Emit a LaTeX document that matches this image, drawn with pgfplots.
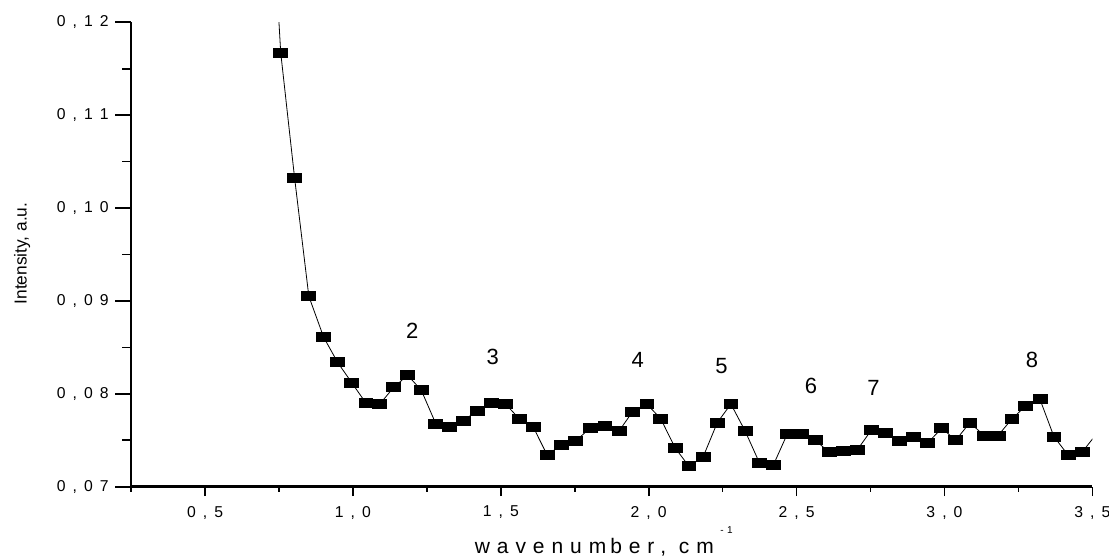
\documentclass[border=0pt]{standalone}
\usepackage{pgfplots}
\pgfplotsset{compat=1.18}
\usepackage{fontspec}
\setmainfont{Liberation Sans}
\newfontfamily\xlabfont[LetterSpace=33]{Liberation Sans}
\newcommand{\tg}{\hspace{5.3pt}}
\newcommand{\ty}[3]{\fontsize{11.8}{14}\selectfont #1\tg,\tg#2\tg#3}
\newcommand{\tx}[2]{\fontsize{11.8}{14}\selectfont #1\tg,\tg#2}
\begin{document}
\begin{tikzpicture}
\pgfplotsset{
  base/.style={
    scale only axis, width=720.9pt, height=348.3pt,
    xmin=0.25, xmax=3.5, ymin=0.07, ymax=0.12,
    axis lines*=left, axis line style={line width=2pt,-},
    tick align=outside,
    tick style={line width=1.25pt,black},
  }
}
\begin{axis}[base, hide y axis,
  xtick={0.5,1,1.5,2,2.5,3,3.5},
  xticklabels={{\tx{0}{5}},{\tx{1}{0}},{\tx{1}{5}},{\tx{2}{0}},{\tx{2}{5}},{\tx{3}{0}},{\tx{3}{5}}},
  minor xtick={0.25,0.75,1.25,1.75,2.25,2.75,3.25},
  major tick length=7pt, minor tick length=3.75pt,
  xticklabel style={anchor=north, yshift=-4pt},
  xlabel={{\xlabfont\fontsize{15.75}{18}\selectfont wavenum\hspace{3pt}ber, cm\hspace{5pt}\raisebox{15pt}{\fontsize{7.5}{9}\selectfont -1}}},
  every axis x label/.style={at={(axis description cs:0.3527,-0.1428)},anchor=base west},
]
\addplot[black, line width=0.6pt, mark=square*, mark size=3.375pt, mark options={xscale=1.55}] coordinates {
(0.709,0.1425) (0.756,0.1167) (0.803,0.1032) (0.851,0.0905) (0.901,0.0861)
(0.948,0.0834) (0.996,0.0812) (1.044,0.0790) (1.091,0.0789) (1.138,0.0807)
(1.185,0.0820) (1.231,0.0804) (1.280,0.0768) (1.325,0.0764) (1.374,0.0771)
(1.420,0.0782) (1.467,0.0790) (1.516,0.0789) (1.563,0.0773) (1.610,0.0764)
(1.657,0.0734) (1.704,0.0745) (1.752,0.0749) (1.802,0.0763) (1.852,0.0765)
(1.900,0.0760) (1.946,0.0781) (1.994,0.0789) (2.041,0.0773) (2.089,0.0742)
(2.136,0.0722) (2.184,0.0732) (2.232,0.0769) (2.278,0.0789) (2.326,0.0760)
(2.374,0.0726) (2.421,0.0723) (2.469,0.0757) (2.516,0.0757) (2.563,0.0750)
(2.611,0.0737) (2.658,0.0738) (2.706,0.0740) (2.753,0.0761) (2.801,0.0758)
(2.849,0.0749) (2.895,0.0754) (2.943,0.0747) (2.991,0.0763) (3.038,0.0750)
(3.086,0.0769) (3.134,0.0755) (3.181,0.0755) (3.228,0.0773) (3.275,0.0787)
(3.323,0.0794) (3.370,0.0754) (3.418,0.0734) (3.465,0.0737) (3.512,0.0756)
};
\begin{scope}[every node/.style={inner sep=0pt}]
\node at (axis cs:1.201,0.0868) {\fontsize{16.5}{18}\selectfont 2};
\node at (axis cs:1.473,0.0840) {\fontsize{16.5}{18}\selectfont 3};
\node at (axis cs:1.963,0.0836) {\fontsize{16.5}{18}\selectfont 4};
\node at (axis cs:2.246,0.0830) {\fontsize{16.5}{18}\selectfont 5};
\node at (axis cs:2.549,0.0809) {\fontsize{16.5}{18}\selectfont 6};
\node at (axis cs:2.760,0.0806) {\fontsize{16.5}{18}\selectfont 7};
\node at (axis cs:3.296,0.0836) {\fontsize{16.5}{18}\selectfont 8};
\end{scope}
\end{axis}
\begin{axis}[base, hide x axis,
  ytick={0.07,0.08,0.09,0.10,0.11,0.12},
  yticklabels={{\ty{0}{0}{7}},{\ty{0}{0}{8}},{\ty{0}{0}{9}},{\ty{0}{1}{0}},{\ty{0}{1}{1}},{\ty{0}{1}{2}}},
  minor ytick={0.075,0.085,0.095,0.105,0.115},
  major tick length=11.8pt, minor tick length=6.75pt,
  yticklabel style={anchor=east, xshift=-1.5pt},
  ylabel={{\fontsize{13}{15}\selectfont Intensity, a.u.}},
  every axis y label/.style={at={(axis description cs:-0.1086,0.502)},anchor=base,rotate=90},
]
\end{axis}
\pgfresetboundingbox
\path (-98.3pt,-54.2pt) rectangle (733.4pt,365pt);
\end{tikzpicture}
\end{document}
